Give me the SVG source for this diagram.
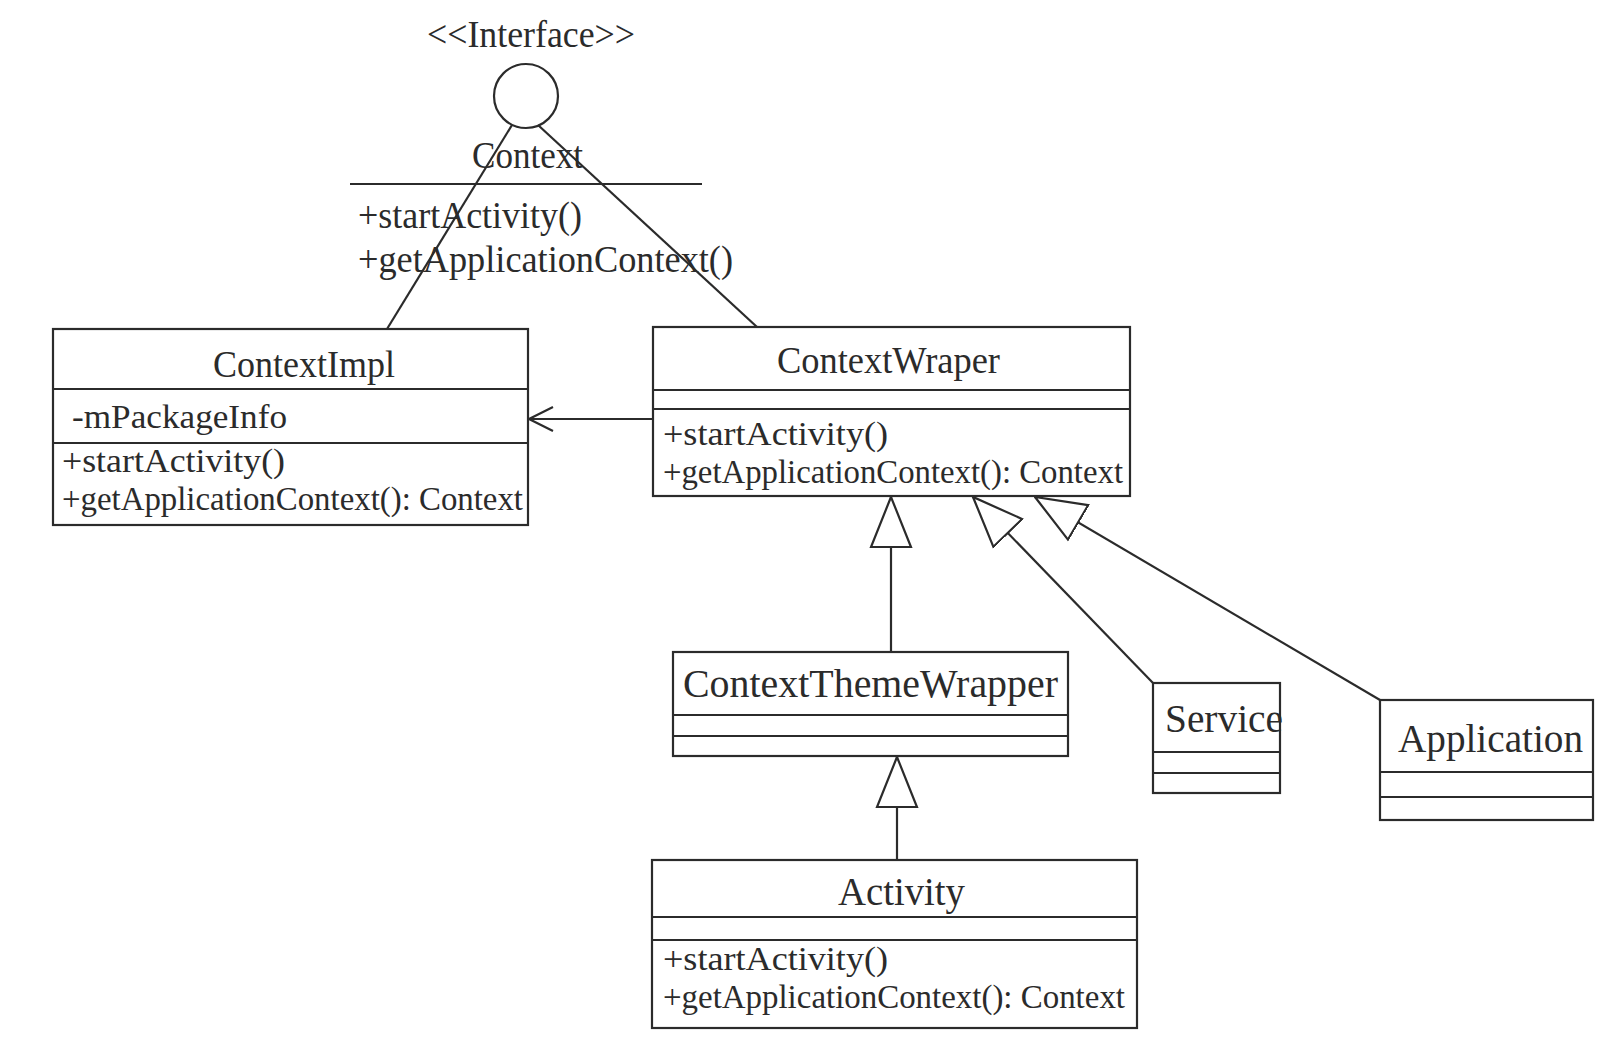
<svg xmlns="http://www.w3.org/2000/svg" width="1616" height="1054" viewBox="0 0 1616 1054">
<style>
.box{fill:#fff;stroke:#2b2b2b;stroke-width:2.2}
.ln{stroke:#2b2b2b;stroke-width:2.2;fill:none}
.t{font-family:"Liberation Serif","Times New Roman",serif;fill:#2b2b2b;font-size:37px}
.m{font-family:"Liberation Serif","Times New Roman",serif;fill:#2b2b2b;font-size:33px}
.n{font-family:"Liberation Serif","Times New Roman",serif;fill:#2b2b2b;font-size:39px}
</style>
<defs>
<marker id="gen" markerUnits="userSpaceOnUse" viewBox="0 0 52 44" markerWidth="52" markerHeight="44" refX="51" refY="22" orient="auto">
<path d="M51,22 L1,2 L1,42 Z" fill="#fff" stroke="#2b2b2b" stroke-width="2.2"/>
</marker>
<marker id="open" markerUnits="userSpaceOnUse" viewBox="0 0 28 28" markerWidth="28" markerHeight="28" refX="26" refY="14" orient="auto">
<path d="M2,2 L26,14 L2,26" fill="none" stroke="#2b2b2b" stroke-width="2.2"/>
</marker>
</defs>
<rect width="1616" height="1054" fill="#fff"/>

<g id="connectors">
<line class="ln" x1="512" y1="125" x2="387" y2="329"/>
<line class="ln" x1="538" y1="125" x2="757" y2="327"/>
<line class="ln" x1="653" y1="419" x2="529" y2="419" marker-end="url(#open)"/>
<line class="ln" x1="891" y1="652" x2="891" y2="497" marker-end="url(#gen)"/>
<line class="ln" x1="1153" y1="683" x2="973" y2="497" marker-end="url(#gen)"/>
<line class="ln" x1="1380" y1="700" x2="1035" y2="497" marker-end="url(#gen)"/>
<line class="ln" x1="897" y1="860" x2="897" y2="757" marker-end="url(#gen)"/>
</g>

<g id="Context">
<text class="t" x="427" y="47" textLength="208" lengthAdjust="spacingAndGlyphs">&lt;&lt;Interface&gt;&gt;</text>
<circle class="ln" cx="526" cy="96" r="32"/>
<text class="t" x="472" y="168" textLength="111" lengthAdjust="spacingAndGlyphs">Context</text>
<line class="ln" x1="350" y1="184" x2="702" y2="184"/>
<text class="t" x="358" y="228" textLength="224" lengthAdjust="spacingAndGlyphs">+startActivity()</text>
<text class="t" x="358" y="272" textLength="375" lengthAdjust="spacingAndGlyphs">+getApplicationContext()</text>
</g>

<g id="ContextImpl">
<rect class="box" x="53" y="329" width="475" height="196"/>
<line class="ln" x1="53" y1="389" x2="528" y2="389"/>
<line class="ln" x1="53" y1="443" x2="528" y2="443"/>
<text class="t" x="213" y="377" textLength="182" lengthAdjust="spacingAndGlyphs">ContextImpl</text>
<text class="m" x="72" y="428" textLength="215" lengthAdjust="spacingAndGlyphs">-mPackageInfo</text>
<text class="m" x="62" y="472" textLength="223" lengthAdjust="spacingAndGlyphs">+startActivity()</text>
<text class="m" x="62" y="510" textLength="461" lengthAdjust="spacingAndGlyphs">+getApplicationContext(): Context</text>
</g>

<g id="ContextWraper">
<rect class="box" x="653" y="327" width="477" height="169"/>
<line class="ln" x1="653" y1="390" x2="1130" y2="390"/>
<line class="ln" x1="653" y1="409" x2="1130" y2="409"/>
<text class="t" x="777" y="373" textLength="223" lengthAdjust="spacingAndGlyphs">ContextWraper</text>
<text class="m" x="663" y="445" textLength="225" lengthAdjust="spacingAndGlyphs">+startActivity()</text>
<text class="m" x="663" y="483" textLength="460" lengthAdjust="spacingAndGlyphs">+getApplicationContext(): Context</text>
</g>

<g id="ContextThemeWrapper">
<rect class="box" x="673" y="652" width="395" height="104"/>
<line class="ln" x1="673" y1="715" x2="1068" y2="715"/>
<line class="ln" x1="673" y1="736" x2="1068" y2="736"/>
<text class="n" x="683" y="697" textLength="375" lengthAdjust="spacingAndGlyphs">ContextThemeWrapper</text>
</g>

<g id="Service">
<rect class="box" x="1153" y="683" width="127" height="110"/>
<line class="ln" x1="1153" y1="752" x2="1280" y2="752"/>
<line class="ln" x1="1153" y1="773" x2="1280" y2="773"/>
<text class="n" x="1165" y="732" textLength="118" lengthAdjust="spacingAndGlyphs">Service</text>
</g>

<g id="Application">
<rect class="box" x="1380" y="700" width="213" height="120"/>
<line class="ln" x1="1380" y1="772" x2="1593" y2="772"/>
<line class="ln" x1="1380" y1="797" x2="1593" y2="797"/>
<text class="n" x="1398" y="752" textLength="185" lengthAdjust="spacingAndGlyphs">Application</text>
</g>

<g id="Activity">
<rect class="box" x="652" y="860" width="485" height="168"/>
<line class="ln" x1="652" y1="917" x2="1137" y2="917"/>
<line class="ln" x1="652" y1="940" x2="1137" y2="940"/>
<text class="n" x="838" y="905" textLength="127" lengthAdjust="spacingAndGlyphs">Activity</text>
<text class="m" x="663" y="970" textLength="225" lengthAdjust="spacingAndGlyphs">+startActivity()</text>
<text class="m" x="663" y="1008" textLength="462" lengthAdjust="spacingAndGlyphs">+getApplicationContext(): Context</text>
</g>
</svg>
